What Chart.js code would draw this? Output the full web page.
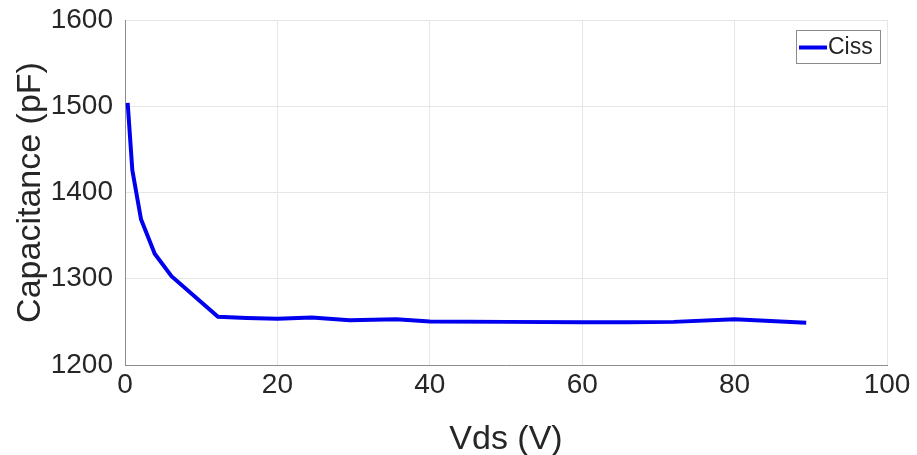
<!DOCTYPE html>
<html>
<head>
<meta charset="utf-8">
<script src="https://cdn.jsdelivr.net/npm/chart.js@4"></script>
<style>
  html, body { margin: 0; padding: 0; background: #ffffff; }
  #wrap { width: 917px; height: 455px; }
</style>
</head>
<body>
<div id="wrap"><canvas id="capChart" width="917" height="455"></canvas></div>
<script>
// Vds (V) vs input capacitance Ciss (pF)
const vdsValues = [0.35, 0.96, 2.1, 3.9, 6.1, 12.2, 16, 20, 24.5, 29.5, 35.6, 40, 50, 60, 66, 72, 80, 89.4];
const cissValues = [1504, 1426, 1369, 1329, 1303, 1256, 1254.5, 1253.5, 1255, 1252, 1253, 1250.5, 1250, 1249.5, 1249.5, 1250, 1253, 1249];
const seriesLabel = "Ciss";
const xTicks = [0, 20, 40, 60, 80, 100];
const yTicks = [1200, 1300, 1400, 1500, 1600];

const fontFamily = "'Liberation Sans', Arial, sans-serif";

// legend drawn as a boxed item in the top-right corner of the plot
const boxedLegend = {
    id: "boxedLegend",
    afterDraw(chart) {
        const ctx = chart.ctx;
        const area = chart.chartArea;
        const ds = chart.data.datasets[0];
        const w = 84, h = 33;
        const x = area.right - 7 - w, y = area.top + 10;
        ctx.save();
        ctx.fillStyle = "#ffffff";
        ctx.fillRect(x, y, w, h);
        ctx.strokeStyle = "#8a8a8a";
        ctx.lineWidth = 1;
        ctx.strokeRect(x + 0.5, y + 0.5, w, h);
        ctx.strokeStyle = ds.borderColor;
        ctx.lineWidth = 4;
        ctx.beginPath();
        ctx.moveTo(x + 3, y + h / 2 + 1);
        ctx.lineTo(x + 31, y + h / 2 + 1);
        ctx.stroke();
        ctx.fillStyle = "#262626";
        ctx.font = "23px " + fontFamily;
        ctx.textBaseline = "middle";
        ctx.fillText(ds.label, x + 32, y + h / 2 + 1);
        ctx.restore();
    }
};

const ctx = document.getElementById("capChart").getContext("2d");
new Chart(ctx, {
    type: "line",
    data: {
        datasets: [
            {
                label: seriesLabel,
                data: vdsValues.map((v, i) => ({ x: v, y: cissValues[i] })),
                borderColor: "#0000ee",
                backgroundColor: "transparent",
                borderWidth: 4,
                pointRadius: 0,
                tension: 0,
            },
        ],
    },
    options: {
        responsive: false,
        animation: false,
        layout: { autoPadding: false, padding: { top: 20, right: 30, left: 0, bottom: 0 } },
        plugins: {
            legend: { display: false },
            tooltip: { enabled: false },
        },
        scales: {
            x: {
                type: "linear",
                min: 0,
                max: 100,
                afterBuildTicks: (axis) => { axis.ticks = xTicks.map(v => ({ value: v })); },
                afterFit: (axis) => {
                    axis.height = 90;
                    axis.paddingLeft = 0;
                    axis.paddingRight = 0;
                },
                grid: { color: "#e6e6e6", drawTicks: false },
                border: { color: "#8c8c8c", width: 1 },
                ticks: {
                    color: "#262626",
                    padding: 3,
                    font: { size: 28, family: fontFamily },
                    callback: (v) => String(v),
                },
                title: {
                    display: true,
                    text: "Vds (V)",
                    color: "#262626",
                    padding: { top: 0, bottom: -5 },
                    font: { size: 34, family: fontFamily },
                },
            },
            y: {
                type: "linear",
                min: 1200,
                max: 1600,
                afterBuildTicks: (axis) => { axis.ticks = yTicks.map(v => ({ value: v })); },
                afterFit: (axis) => {
                    axis.width = 125;
                    axis.paddingTop = 0;
                    axis.paddingBottom = 0;
                },
                grid: { color: "#e6e6e6", drawTicks: false },
                border: { color: "#8c8c8c", width: 1 },
                ticks: {
                    color: "#262626",
                    padding: 12,
                    font: { size: 28, family: fontFamily },
                    callback: (v) => String(v),
                },
                title: {
                    display: true,
                    text: "Capacitance (pF)",
                    color: "#262626",
                    padding: { top: 10, bottom: 0 },
                    font: { size: 34, family: fontFamily },
                },
            },
        },
    },
    plugins: [boxedLegend],
});
</script>
</body>
</html>
